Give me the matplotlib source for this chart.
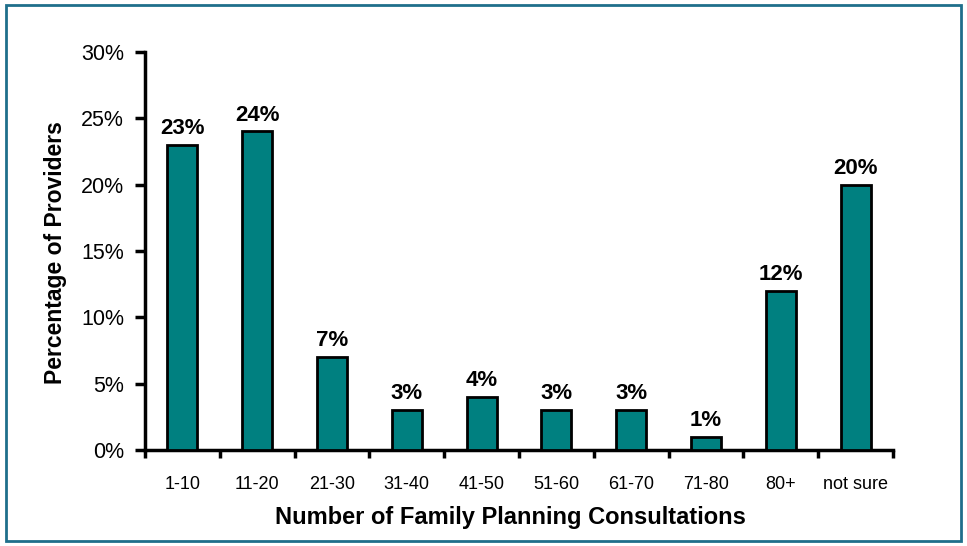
import matplotlib.pyplot as plt
import matplotlib.patches as mpatches
import numpy as np

plt.rcParams['font.family'] = ['Liberation Sans', 'DejaVu Sans']

categories = ['1-10', '11-20', '21-30', '31-40', '41-50', '51-60',
              '61-70', '71-80', '80+', 'not sure']
percent = [23, 24, 7, 3, 4, 3, 3, 1, 12, 20]
y_ticks = [0, 5, 10, 15, 20, 25, 30]

fig = plt.figure(figsize=(9.67, 5.46), dpi=100)
ax = fig.add_axes([0.15, 0.176, 0.7735, 0.729])

x = np.arange(len(categories))
ax.bar(x, percent, width=0.4, color='#008080', edgecolor='black', linewidth=2, zorder=3)

for xi, v in zip(x, percent):
    ax.text(xi, v + 0.45, f'{v}%', ha='center', va='bottom',
            fontsize=16, fontweight='bold')

ax.set_xlim(-0.5, len(categories) - 0.5)
ax.set_ylim(0, 30)
ax.set_yticks(y_ticks)
ax.set_yticklabels([f'{t}%' for t in y_ticks], fontsize=15.5)

# category labels in the middle, tick marks on the boundaries
ax.set_xticks(np.arange(-0.5, len(categories)), minor=False)
ax.set_xticklabels([])
ax.set_xticks(x, minor=True)
ax.set_xticklabels(categories, minor=True, fontsize=13)
ax.tick_params(axis='x', which='minor', length=0, pad=19)
ax.tick_params(axis='x', which='major', direction='out', length=6, width=2.5)
ax.tick_params(axis='y', direction='out', length=7, width=2.5, pad=8)

for side in ['top', 'right']:
    ax.spines[side].set_visible(False)
for side in ['left', 'bottom']:
    ax.spines[side].set_linewidth(2.5)

ax.set_ylabel('Percentage of Providers', fontsize=16.5, fontweight='bold')
ax.set_xlabel('Number of Family Planning Consultations', fontsize=17,
              fontweight='bold')
ax.yaxis.set_label_coords(-0.104, 0.497)
ax.xaxis.set_label_coords(0.488, -0.14)

# outer frame
fig.patches.append(mpatches.Rectangle((0.006, 0.01), 0.988, 0.98,
                                      transform=fig.transFigure, fill=False,
                                      edgecolor='#1f6f8b', linewidth=2))

fig.savefig('out.png', dpi=100)
